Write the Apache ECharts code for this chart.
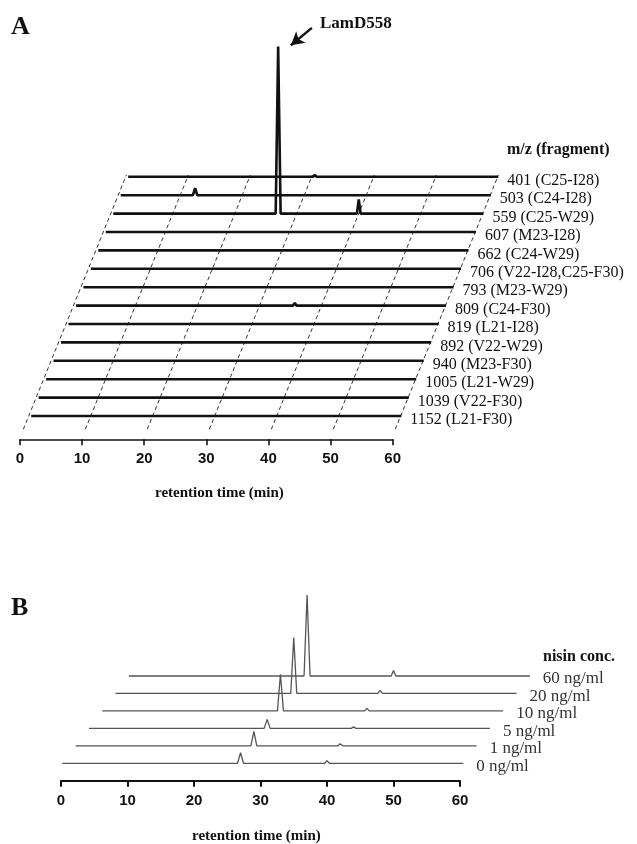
<!DOCTYPE html>
<html><head><meta charset="utf-8">
<script src="https://cdn.jsdelivr.net/npm/echarts@6/dist/echarts.min.js"></script>
<style>html,body{margin:0;padding:0;background:#fff}#c{width:637px;height:844px}</style>
</head><body><div id="c"></div>
<script>
// ---------------- data ----------------
const timeTicks = [0, 10, 20, 30, 40, 50, 60];
// Panel A: traces listed top (back) to bottom (front)
const mzA = [401, 503, 559, 607, 662, 706, 793, 809, 819, 892, 940, 1005, 1039, 1152];
const fragA = ['C25-I28', 'C24-I28', 'C25-W29', 'M23-I28', 'C24-W29', 'V22-I28,C25-F30', 'M23-W29',
               'C24-F30', 'L21-I28', 'V22-W29', 'M23-F30', 'L21-W29', 'V22-F30', 'L21-F30'];
// peaks per trace: [retention time (min), relative intensity (%), half width (min)]
const peaksA = [
  [[30.5, 1.2, 0.3]],
  [[12.4, 4.2, 0.35]],
  [[27.0, 100, 0.4], [40.0, 8.5, 0.3]],
  [], [], [], [],
  [[35.7, 1.5, 0.3]],
  [], [], [], [], [], []
];
const runA = [0.4, 60.1];
// Panel B: traces listed top (back) to bottom (front)
const concB = ['60 ng/ml', '20 ng/ml', '10 ng/ml', '5 ng/ml', '1 ng/ml', '0 ng/ml'];
const rtMainB = 27, rtMinorB = 40;
const mainPeakB = [100, 69.1, 45.3, 11.1, 17.7, 13.2];
const minorPeakB = [6.8, 3.7, 3.1, 1.9, 2.5, 3.3];
const runB = [0.2, 60.5];

// ---------------- layout ----------------
const serif = 'Liberation Serif';
const sans = 'Liberation Sans';
// panel A geometry
const A = { pxMin: 6.2, pxUnit: 1.67, ox: 28.7, oy: 416, shiftMin: 7.46 / 6.2, shiftUnit: 18.4 / 1.67,
            xr: [-2, 78], yr: [-8, 240] };
// panel B geometry
const B = { pxMin: 6.65, pxUnit: 0.81, ox: 61, oy: 763.3, shiftMin: 2, shiftUnit: 17.46 / 0.81,
            xr: [0, 72], yr: [-8, 226] };

function gridOf(G) {
  return { left: G.ox + G.xr[0] * G.pxMin, width: (G.xr[1] - G.xr[0]) * G.pxMin,
           top: G.oy - G.yr[1] * G.pxUnit, height: (G.yr[1] - G.yr[0]) * G.pxUnit };
}
function traceData(peaks, run, depth, G) {
  const pts = [[run[0], 0]];
  peaks.slice().sort((a, b) => a[0] - b[0]).forEach(p => {
    pts.push([p[0] - p[2], 0], [p[0], p[1]], [p[0] + p[2], 0]);
  });
  pts.push([run[1], 0]);
  return pts.map(p => [p[0] + depth * G.shiftMin, p[1] + depth * G.shiftUnit]);
}

const series = [];
// dashed floor grid lines for panel A
const nA = mzA.length;
timeTicks.forEach(t => {
  const dBot = A.yr[0] / A.shiftUnit, dTop = nA - 1 + 0.1;
  series.push({ type: 'line', xAxisIndex: 0, yAxisIndex: 0, silent: true, symbol: 'none', z: 1,
    data: [[t + dBot * A.shiftMin, A.yr[0]], [t + dTop * A.shiftMin, dTop * A.shiftUnit]],
    lineStyle: { color: '#333', width: 1, type: [4, 3] } });
});
// panel A traces
mzA.forEach((mz, k) => {
  const depth = nA - 1 - k;
  const s = { type: 'line', xAxisIndex: 0, yAxisIndex: 0, symbol: 'none', z: 3, silent: true,
    data: traceData(peaksA[k], runA, depth, A),
    lineStyle: { color: '#111', width: 2.6 },
    endLabel: { show: true, formatter: mz + ' (' + fragA[k] + ')', distance: 9, offset: [0, 4],
      color: '#111', fontFamily: serif, fontSize: 16 } };
  if (k === 2) {
    const apexX = 27.0 + depth * A.shiftMin, apexY = 100 + depth * A.shiftUnit;
    s.markLine = { silent: true, symbol: ['none', 'arrow'], symbolSize: [11, 13],
      lineStyle: { color: '#111', width: 2.4, type: 'solid' }, label: { show: false },
      data: [[{ coord: [apexX + 5.44, apexY + 11.2] }, { coord: [apexX + 2.05, apexY + 0.8] }]] };
    s.markPoint = { silent: true, symbol: 'circle', symbolSize: 0,
      data: [{ coord: [apexX + 5.44, apexY + 11.2] }],
      label: { show: true, position: 'right', distance: 8, offset: [0, -4], formatter: 'LamD558',
        color: '#111', fontFamily: serif, fontWeight: 'bold', fontSize: 17 } };
  }
  series.push(s);
});
// panel B traces
const nB = concB.length;
concB.forEach((c, k) => {
  const depth = nB - 1 - k;
  series.push({ type: 'line', xAxisIndex: 2, yAxisIndex: 2, symbol: 'none', z: 3, silent: true,
    data: traceData([[rtMainB, mainPeakB[k], 0.45], [rtMinorB, minorPeakB[k], 0.35]], runB, depth, B),
    lineStyle: { color: '#555', width: 1.3 },
    endLabel: { show: true, formatter: c, distance: 13, offset: [0, 3],
      color: '#333', fontFamily: serif, fontSize: 17 } });
});

const hiddenAxis = (min, max, gi) => ({ type: 'value', gridIndex: gi, min, max, show: false });
const tickAxis = (gi, margin, w) => ({ type: 'value', gridIndex: gi, min: 0, max: 60, interval: 10,
  axisLine: { show: true, lineStyle: { color: '#111', width: w } },
  axisTick: { show: true, inside: false, length: 6, lineStyle: { color: '#111', width: w } },
  axisLabel: { show: true, margin, color: '#111', fontFamily: sans, fontWeight: 'bold', fontSize: 15 },
  splitLine: { show: false } });

const gA = gridOf(A), gB = gridOf(B);
const option = {
  backgroundColor: '#fff',
  animation: false,
  grid: [
    gA,
    { left: 20, width: 372.7, top: 420, height: 19.3 },
    gB,
    { left: 61, width: 399, top: 770, height: 10.7 }
  ],
  xAxis: [
    hiddenAxis(A.xr[0], A.xr[1], 0),
    tickAxis(1, 12, 1.6),
    hiddenAxis(B.xr[0], B.xr[1], 2),
    tickAxis(3, 13, 2)
  ],
  yAxis: [
    hiddenAxis(A.yr[0], A.yr[1], 0),
    hiddenAxis(0, 1, 1),
    hiddenAxis(B.yr[0], B.yr[1], 2),
    hiddenAxis(0, 1, 3)
  ],
  title: [
    { text: 'A', left: 11, top: 14, padding: 0, textStyle: { fontFamily: serif, fontWeight: 'bold', fontSize: 26, color: '#111' } },
    { text: 'm/z (fragment)', left: 507, top: 142, padding: 0, textStyle: { fontFamily: serif, fontWeight: 'bold', fontSize: 16, color: '#111' } },
    { text: 'retention time (min)', left: 155, top: 486, padding: 0, textStyle: { fontFamily: serif, fontWeight: 'bold', fontSize: 15, color: '#111' } },
    { text: 'B', left: 11, top: 595, padding: 0, textStyle: { fontFamily: serif, fontWeight: 'bold', fontSize: 26, color: '#111' } },
    { text: 'nisin conc.', left: 543, top: 649, padding: 0, textStyle: { fontFamily: serif, fontWeight: 'bold', fontSize: 16, color: '#111' } },
    { text: 'retention time (min)', left: 192, top: 829, padding: 0, textStyle: { fontFamily: serif, fontWeight: 'bold', fontSize: 15, color: '#111' } }
  ],
  series
};
const chart = echarts.init(document.getElementById('c'), null, { renderer: 'canvas' });
chart.setOption(option);
</script>
</body></html>
